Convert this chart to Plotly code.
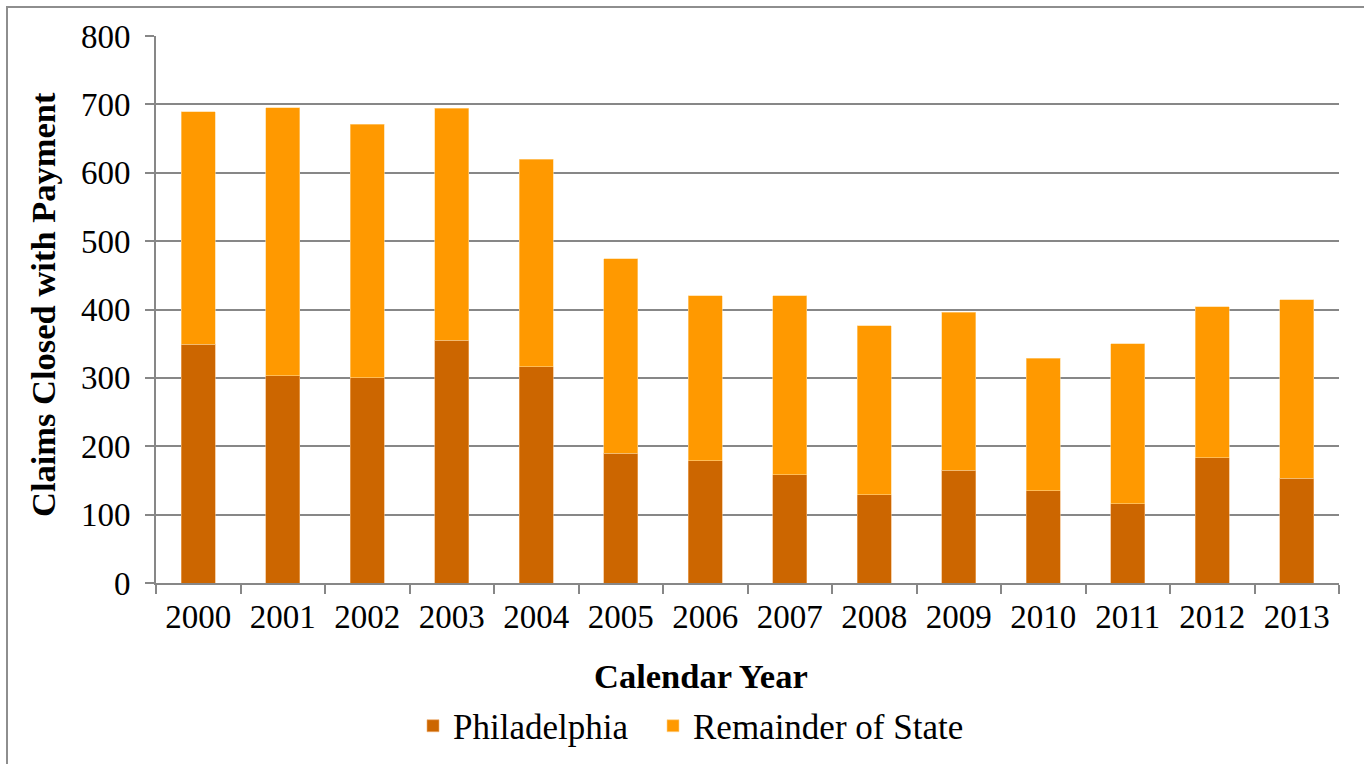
import plotly.graph_objects as go

years = ["2000", "2001", "2002", "2003", "2004", "2005", "2006",
         "2007", "2008", "2009", "2010", "2011", "2012", "2013"]
philadelphia = [349, 303, 300, 355, 316, 190, 179, 158, 129, 165, 135, 116, 183, 153]
remainder = [340, 392, 371, 339, 304, 284, 241, 262, 247, 231, 194, 234, 221, 261]

FONT = "Liberation Serif"
GRID = "#878787"

fig = go.Figure()
fig.add_trace(go.Bar(x=years, y=philadelphia, name="Philadelphia", legendwidth=195,
                     marker=dict(color="#CC6600", line=dict(color="#F0B070", width=0.6))))
fig.add_trace(go.Bar(x=years, y=remainder, name="Remainder of State", legendwidth=300,
                     marker=dict(color="#FF9900", line=dict(color="#FFD590", width=0.6))))

L, R, T, B = 156, 25, 36, 181
W, H = 1364, 764
pw, ph = W - L - R, H - T - B

def px(x):
    return (x - L) / pw

def py(y):
    return (H - B - y) / ph

fig.update_layout(
    barmode="stack",
    bargap=0.6,
    width=W, height=H,
    margin=dict(l=L, r=R, t=T, b=B, autoexpand=False),
    paper_bgcolor="white",
    plot_bgcolor="white",
    font=dict(family=FONT, size=33, color="black"),
    showlegend=True,
    legend=dict(orientation="h", xref="container", yref="container",
                x=413 / W, xanchor="left", y=1 - 726 / H, yanchor="middle",
                font=dict(family=FONT, size=35), traceorder="normal"),
    xaxis=dict(type="category", range=[-0.5, 13.5], showline=True, linecolor=GRID,
               linewidth=2, ticks="outside", tickson="boundaries", ticklen=9,
               tickcolor=GRID, tickwidth=1.5, showgrid=False, ticklabelstandoff=3,
               tickfont=dict(family=FONT, size=33)),
    yaxis=dict(range=[0, 800], dtick=100, showline=True, linecolor=GRID, linewidth=2,
               ticks="outside", ticklen=9, tickcolor=GRID, tickwidth=1.5,
               showgrid=True, gridcolor=GRID, gridwidth=2, zeroline=False,
               ticklabelstandoff=8, tickfont=dict(family=FONT, size=33)),
    annotations=[
        dict(text="<b>Calendar Year</b>", xref="paper", yref="paper",
             x=px(701), y=py(676), xanchor="center", yanchor="middle",
             showarrow=False, font=dict(family=FONT, size=34.5)),
        dict(text="<b>Claims Closed with Payment</b>", xref="paper", yref="paper",
             x=px(43), y=py(305), xanchor="center", yanchor="middle", textangle=-90,
             showarrow=False, font=dict(family=FONT, size=34.5)),
    ],
    shapes=[
        dict(type="rect", xref="paper", yref="paper", x0=px(7), x1=px(1400),
             y0=py(800), y1=py(7), line=dict(color="#8E8E8E", width=2), layer="below"),
    ],
)

fig.write_html("out.html")
